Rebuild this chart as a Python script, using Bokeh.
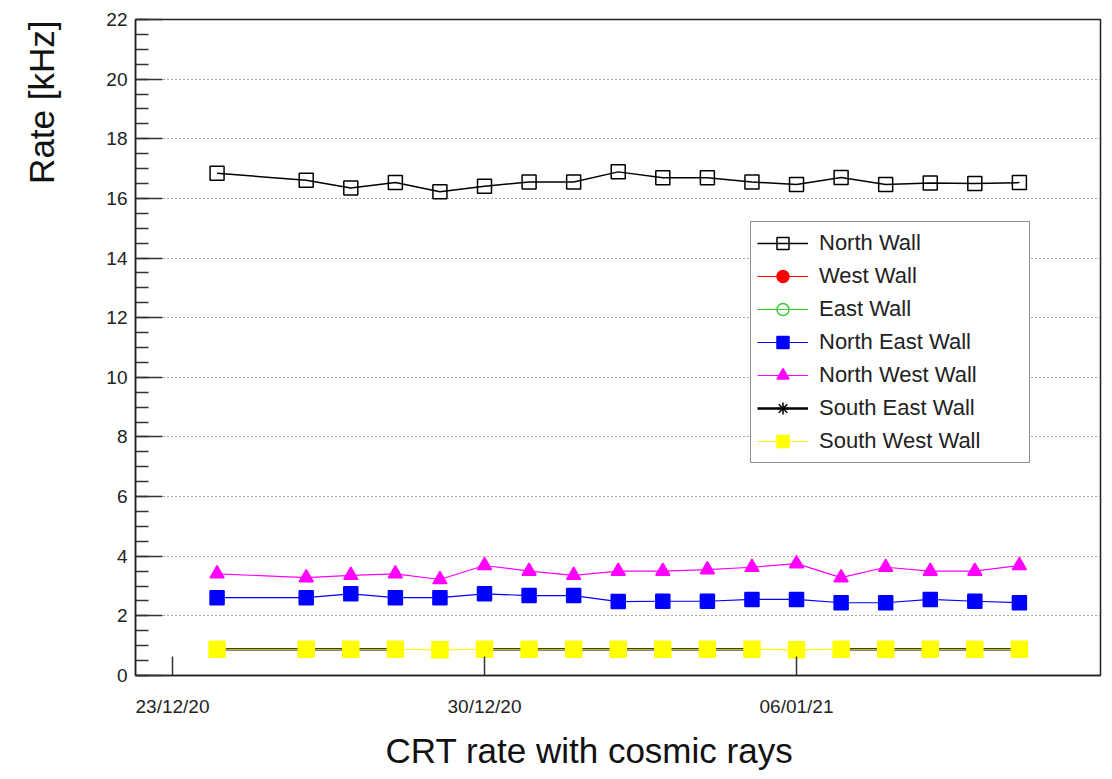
import numpy as np
import pandas as pd
from datetime import datetime
from bokeh.plotting import figure
from bokeh.models import (Range1d, FixedTicker, SingleIntervalTicker, DatetimeTickFormatter,
                          Legend, Title, LinearAxis, ColumnDataSource)
from bokeh.embed import file_html
from bokeh.resources import INLINE

# ---------------- data ----------------
dates = ["2020-12-24", "2020-12-26", "2020-12-27", "2020-12-28", "2020-12-29", "2020-12-30",
         "2020-12-31", "2021-01-01", "2021-01-02", "2021-01-03", "2021-01-04", "2021-01-05",
         "2021-01-06", "2021-01-07", "2021-01-08", "2021-01-09", "2021-01-10", "2021-01-11"]
nan = float("nan")
north_wall = [16.84, 16.61, 16.35, 16.53, 16.22, 16.41, 16.55, 16.55, 16.89, 16.69, 16.69, 16.55,
              16.47, 16.70, 16.47, 16.52, 16.50, 16.53]
west_wall = [0.88, 0.88, 0.88, 0.88, nan, 0.88, 0.88, 0.88, 0.88, 0.88, 0.88, 0.88,
             nan, 0.88, 0.88, 0.88, 0.88, 0.88]
east_wall = [0.88, 0.88, 0.88, 0.88, nan, 0.88, 0.88, 0.88, 0.88, 0.88, 0.88, 0.88,
             nan, 0.88, 0.88, 0.88, 0.88, 0.88]
north_east_wall = [2.61, 2.61, 2.74, 2.61, 2.61, 2.74, 2.68, 2.68, 2.48, 2.49, 2.49, 2.55,
                   2.55, 2.44, 2.44, 2.55, 2.49, 2.44]
north_west_wall = [3.41, 3.28, 3.36, 3.41, 3.22, 3.69, 3.50, 3.36, 3.50, 3.50, 3.55, 3.63,
                   3.75, 3.28, 3.63, 3.50, 3.50, 3.69]
south_east_wall = [0.88, 0.88, 0.88, 0.88, nan, 0.88, 0.88, 0.88, 0.88, 0.88, 0.88, 0.88,
                   nan, 0.88, 0.88, 0.88, 0.88, 0.88]
south_west_wall = [0.88, 0.88, 0.88, 0.88, 0.86, 0.88, 0.88, 0.88, 0.88, 0.88, 0.88, 0.88,
                   0.86, 0.88, 0.88, 0.88, 0.88, 0.88]
tick_dates = ["2020-12-23", "2020-12-30", "2021-01-06"]
x_start = datetime(2020, 12, 22, 4, 5)
x_end = datetime(2021, 1, 12, 19, 40)
y_min, y_max = 0, 22

FONT = "Liberation Sans"
x = pd.to_datetime(dates)

p = figure(frame_width=965, frame_height=656, output_backend="svg", toolbar_location=None,
           x_axis_type="datetime", x_range=Range1d(x_start, x_end),
           y_range=Range1d(y_min, y_max),
           min_border_left=135, min_border_right=4, min_border_top=19, min_border_bottom=60)
p.background_fill_color = "white"
p.border_fill_color = "white"
p.outline_line_color = "#222222"
p.outline_line_width = 1.5

# axes
ya = p.yaxis[0]
ya.ticker = SingleIntervalTicker(interval=2, num_minor_ticks=4)
ya.major_tick_in = 27
ya.major_tick_out = 0
ya.minor_tick_in = 13
ya.minor_tick_out = 0
ya.major_tick_line_width = 1.5
ya.minor_tick_line_width = 1.5
ya.major_tick_line_color = "#333333"
ya.minor_tick_line_color = "#333333"
ya.axis_line_color = "#222222"
ya.axis_line_width = 1.5
ya.major_label_standoff = 8
ya.major_label_text_font = FONT
ya.major_label_text_font_size = "19px"
ya.major_label_text_color = "#222222"

# invisible spacer between the tick labels and the y title
spacer = LinearAxis(ticker=FixedTicker(ticks=[], minor_ticks=[]),
                    axis_line_color=None, major_tick_line_color=None,
                    minor_tick_line_color=None, major_tick_in=0, major_tick_out=0,
                    minor_tick_in=0, minor_tick_out=0, major_label_standoff=0,
                    axis_label=" ", axis_label_standoff=6,
                    axis_label_text_font=FONT, axis_label_text_font_size="30px",
                    axis_label_text_alpha=0.0)
p.add_layout(spacer, "left")

ytitle = Title(text="Rate [kHz]", align="right", offset=1, vertical_align="middle", standoff=0,
               text_font=FONT, text_font_size="35px", text_font_style="normal",
               text_color="#111111")
p.add_layout(ytitle, "left")

xa = p.xaxis[0]
tick_ms = [pd.Timestamp(d).value // 10**6 for d in tick_dates]
xa.ticker = FixedTicker(ticks=tick_ms, minor_ticks=[])
fmt = "%d/%m/%y"
xa.formatter = DatetimeTickFormatter(microseconds=fmt, milliseconds=fmt, seconds=fmt, minsec=fmt,
                                     minutes=fmt, hourmin=fmt, hours=fmt, days=fmt, months=fmt,
                                     years=fmt)
xa.major_tick_in = 19
xa.major_tick_out = 0
xa.minor_tick_in = 0
xa.minor_tick_out = 0
xa.major_tick_line_width = 1.5
xa.major_tick_line_color = "#333333"
xa.axis_line_color = "#222222"
xa.axis_line_width = 1.5
xa.major_label_standoff = 20
xa.major_label_text_font = FONT
xa.major_label_text_font_size = "19px"
xa.major_label_text_color = "#222222"

p.xgrid.visible = False
for g in p.ygrid:
    g.grid_line_color = "#555555"
    g.grid_line_dash = "1 3"
    g.grid_line_width = 1
    g.bounds = (y_min, y_max)

# series
series = [
    ("North Wall", north_wall, "#000000", "square", 14, False, 1.5),
    ("West Wall", west_wall, "#ff0000", "circle", 12, True, 1.2),
    ("East Wall", east_wall, "#33cc33", "circle", 12, False, 1.2),
    ("North East Wall", north_east_wall, "#0000ff", "square", 14, True, 1.2),
    ("North West Wall", north_west_wall, "#ff00ff", "triangle", 14, True, 1.2),
    ("South East Wall", south_east_wall, "#000000", "asterisk", 12, False, 2.5),
    ("South West Wall", south_west_wall, "#ffff00", "square", 16, True, 1.2),
]
items = []
for name, vals, col, mk, sz, filled, lw in series:
    src = ColumnDataSource(dict(x=x, y=vals))
    r1 = p.line("x", "y", source=src, line_color=col, line_width=lw)
    r2 = p.scatter("x", "y", source=src, marker=mk, size=sz,
                   line_color=col, line_width=1.5,
                   fill_color=col if filled else "white", fill_alpha=1.0 if filled else 0.0)
    items.append((name, [r1, r2]))

legend = Legend(items=items, location=(615, 212))
legend.border_line_color = "#222222"
legend.border_line_width = 1.5
legend.background_fill_color = "white"
legend.background_fill_alpha = 1.0
legend.margin = 0
legend.padding = 6
legend.spacing = 3
legend.glyph_width = 51
legend.glyph_height = 30
legend.label_height = 30
legend.label_width = 204
legend.label_standoff = 11
legend.label_text_font = FONT
legend.label_text_font_size = "22px"
legend.label_text_color = "#222222"
legend.label_text_baseline = "middle"
p.add_layout(legend)

cap = Title(text="CRT rate with cosmic rays", align="left", offset=250,
            vertical_align="bottom", standoff=18,
            text_font=FONT, text_font_size="35px", text_font_style="normal",
            text_color="#111111")
p.add_layout(cap, "below")

open("out.html", "w").write(file_html(p, INLINE))
